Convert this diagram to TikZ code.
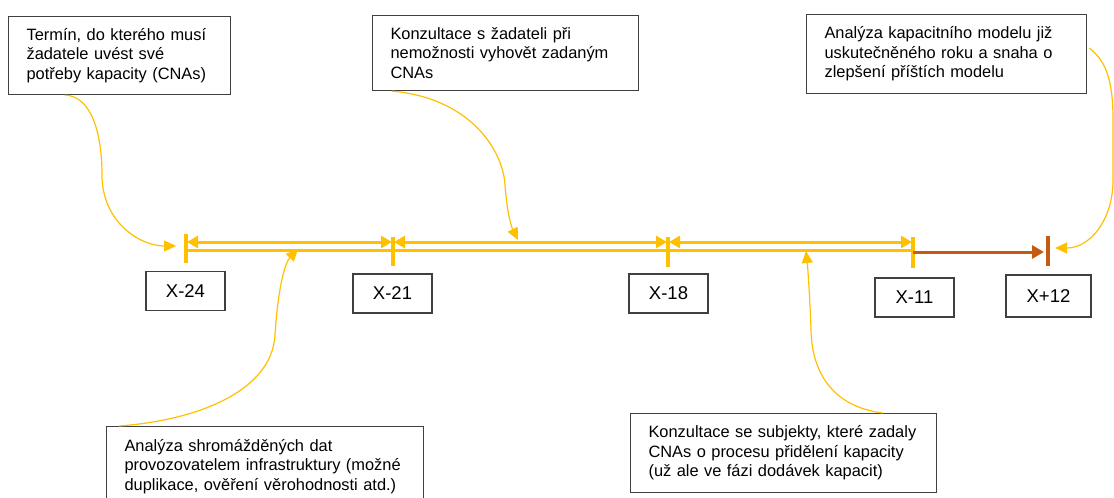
\documentclass[tikz,border=0pt]{standalone}
\usepackage{fontspec}
\setmainfont{Liberation Sans}
\usetikzlibrary{arrows.meta,calc}
\definecolor{gold}{HTML}{FFC000}
\definecolor{rust}{HTML}{C55A11}
\definecolor{frame}{HTML}{404040}
\tikzset{
  note/.style={draw=frame,line width=1.1pt,anchor=north west,align=left,inner xsep=18pt,inner ysep=0pt,
    font=\fontsize{16.4}{19.6}\selectfont},
  yearbox/.style={draw=frame,line width=1.1pt,minimum width=79pt,minimum height=39pt,inner sep=0pt,
    font=\fontsize{18.5}{20}\selectfont},
  tick/.style={gold,line width=3.5pt},
  span/.style={gold,line width=3pt},
  bothtips/.style={span,{Triangle[length=11pt,width=12pt]}-{Triangle[length=11pt,width=12pt]},shorten <=1pt,shorten >=1pt},
  callout/.style={gold,line width=1.2pt,-{Triangle[length=12pt,width=11pt]}},
}
\begin{document}
\begin{tikzpicture}[x=1pt,y=-1pt]
\useasboundingbox (0,0) rectangle (1114,498);
% notes
\node[note,text width=186pt,minimum height=78pt] (n1) at (8,16) {\mbox{Termín, do kterého musí}\\\mbox{žadatele uvést své}\\\mbox{potřeby kapacity (CNAs)}};
\node[note,text width=230pt,minimum height=75pt] (n2) at (372,15) {\mbox{Konzultace s žadateli při}\\\mbox{nemožnosti vyhovět zadaným}\\CNAs};
\node[note,text width=244pt,minimum height=79pt] (n3) at (806,14) {\mbox{Analýza kapacitního modelu již}\\\mbox{uskutečněného roku a snaha o}\\\mbox{zlepšení příštích modelu}};
\node[note,text width=281pt,minimum height=80pt] (n4) at (106,426) {\mbox{Analýza shromážděných dat}\\\mbox{provozovatelem infrastruktury (možné}\\\mbox{duplikace, ověření věrohodnosti atd.)}};
\node[note,text width=270pt,minimum height=79pt] (n5) at (630,413) {\mbox{Konzultace se subjekty, které zadaly}\\\mbox{CNAs o procesu přidělení kapacity}\\\mbox{(už ale ve fázi dodávek kapacit)}};
% year boxes
\node[yearbox] (y24) at (185.5,291) {X-24};
\node[yearbox] (y21) at (392.5,293.5) {X-21};
\node[yearbox] (y18) at (668.5,293.5) {X-18};
\node[yearbox] (y11) at (914.5,297.5) {X-11};
\node[yearbox,minimum width=85pt,minimum height=42pt] (y12) at (1048.5,296) {X+12};
% tick coordinates
\coordinate (a24) at (186,242); \coordinate (b24) at (186,250);
\coordinate (a21) at (393,242); \coordinate (b21) at (393,250);
\coordinate (a18) at (668,242); \coordinate (b18) at (668,250);
\coordinate (a11) at (913,242); \coordinate (b11) at (913,252);
\coordinate (b12) at (1048,252);
% ticks
\draw[tick] (186,234) -- (186,263);
\draw[tick] (393,237) -- (393,266);
\draw[tick] (668,237) -- (668,267);
\draw[tick] (913,237) -- (913,268);
\draw[rust,line width=3.5pt] (1048,236) -- (1048,266);
% spans
\draw[bothtips] (a24) -- (a21);
\draw[bothtips] (a21) -- (a18);
\draw[bothtips] (a18) -- (a11);
\draw[span] (b24) -- (913,250);
\draw[rust,line width=3pt,-{Triangle[length=12pt,width=13pt]},shorten >=4pt] (b11) -- (b12);
% callout ends
\coordinate (c1) at (176,246);
\coordinate (c2) at (518,240);
\coordinate (c3) at (1055,248);
\coordinate (c4) at (298,249);
\coordinate (c5) at (806,251);
\draw[callout] ([xshift=57pt]n1.south west) .. controls (90,96) and (102,130) .. (102,175)
   .. controls (102,222) and (140,246) .. (c1);
\draw[callout] ([xshift=20pt]n2.south west) .. controls (470,98) and (503,150) .. (505,185)
   .. controls (507,212) and (511,226) .. (c2);
\draw[callout] (n3.east) ++(2,-6) .. controls (1108,62) and (1113,85) .. (1113,120)
   -- (1113,180) .. controls (1113,220) and (1090,248) .. (c3);
\draw[callout] ([xshift=13pt]n4.north west) .. controls (200,420) and (272,390) .. (275,335)
   .. controls (277,300) and (283,265) .. (c4);
\draw[callout] ([xshift=253pt]n5.north west) .. controls (840,408) and (812,380) .. (811,330)
   .. controls (810,300) and (808,270) .. (c5);
\end{tikzpicture}
\end{document}
